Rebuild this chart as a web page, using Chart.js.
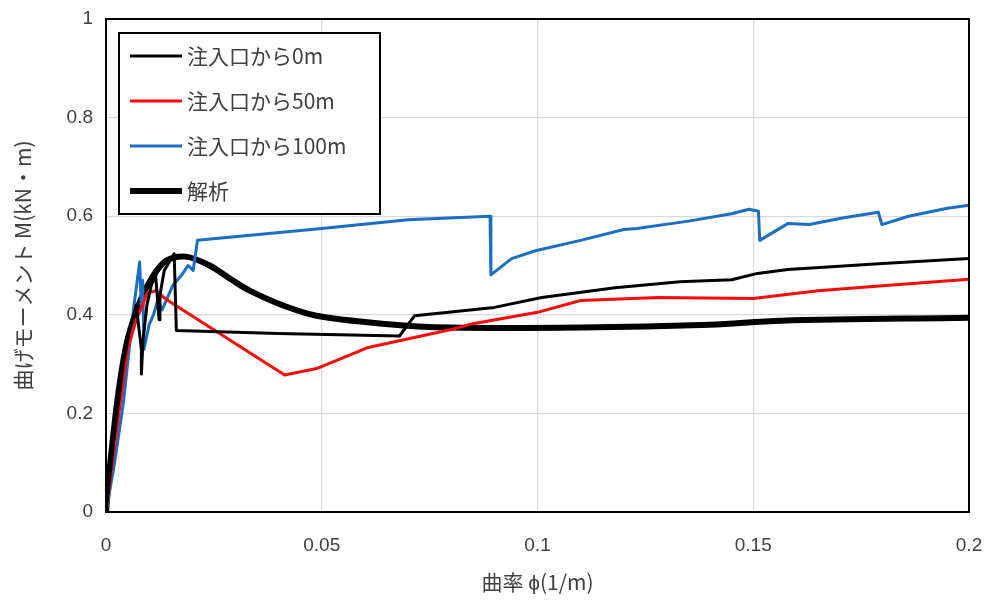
<!DOCTYPE html>
<html>
<head>
<meta charset="utf-8">
<script src="https://cdn.jsdelivr.net/npm/chart.js@4/dist/chart.umd.min.js"></script>
<style>
  html, body { margin: 0; padding: 0; background: #fff; }
  #wrap { width: 989px; height: 602px; position: relative; }
</style>
</head>
<body>
<div id="wrap"><canvas id="c" width="989" height="602"></canvas></div>
<script>
// ---- data (curvature phi [1/m], moment M [kN·m]) ----
const seriesNames = ['注入口から0m', '注入口から50m', '注入口から100m', '解析'];
const xTickLabels = ['0', '0.05', '0.1', '0.15', '0.2'];
const yTickLabels = ['0', '0.2', '0.4', '0.6', '0.8', '1'];

const phi0m = [0, 0.002, 0.004, 0.0055, 0.007, 0.0082, 0.0082, 0.0086, 0.0095, 0.0105, 0.0115, 0.0123, 0.0125, 0.0135, 0.0158, 0.0163, 0.04, 0.068, 0.0715, 0.09, 0.101, 0.118, 0.133, 0.145, 0.151, 0.158, 0.18, 0.2];
const m0m   = [0, 0.16, 0.30, 0.37, 0.42, 0.33, 0.28, 0.35, 0.42, 0.46, 0.48, 0.39, 0.44, 0.49, 0.524, 0.368, 0.362, 0.357, 0.398, 0.415, 0.435, 0.455, 0.467, 0.471, 0.484, 0.492, 0.504, 0.514];

const phi50m = [0, 0.003, 0.005, 0.007, 0.0085, 0.0095, 0.0115, 0.014, 0.0414, 0.0488, 0.0605, 0.08, 0.085, 0.1, 0.11, 0.128, 0.15, 0.165, 0.18, 0.2];
const m50m   = [0, 0.2, 0.33, 0.39, 0.42, 0.443, 0.449, 0.431, 0.278, 0.291, 0.333, 0.37, 0.382, 0.405, 0.429, 0.435, 0.433, 0.449, 0.459, 0.472];

const phi100m = [0, 0.002, 0.004, 0.005, 0.006, 0.0065, 0.0078, 0.0082, 0.0085, 0.0088, 0.01, 0.011, 0.012, 0.013, 0.0145, 0.0155, 0.0175, 0.019, 0.0202, 0.0212, 0.05, 0.07, 0.089, 0.0892, 0.094, 0.0995, 0.11, 0.12, 0.123, 0.135, 0.145, 0.149, 0.1512, 0.1515, 0.158, 0.163, 0.171, 0.179, 0.1798, 0.186, 0.195, 0.2];
const m100m   = [0, 0.1, 0.22, 0.3, 0.38, 0.42, 0.507, 0.41, 0.47, 0.33, 0.38, 0.40, 0.43, 0.41, 0.44, 0.46, 0.48, 0.50, 0.49, 0.551, 0.575, 0.593, 0.6, 0.481, 0.514, 0.53, 0.551, 0.573, 0.575, 0.59, 0.605, 0.614, 0.61, 0.551, 0.585, 0.583, 0.597, 0.608, 0.583, 0.600, 0.616, 0.622];

const phiCalc = [0, 0.001, 0.003, 0.005, 0.008, 0.011, 0.014, 0.0185, 0.024, 0.0293, 0.0333, 0.041, 0.0488, 0.064, 0.0798, 0.11, 0.14, 0.1565, 0.2];
const mCalc   = [0, 0.1, 0.25, 0.35, 0.43, 0.48, 0.51, 0.518, 0.5, 0.47, 0.449, 0.419, 0.398, 0.382, 0.374, 0.374, 0.38, 0.388, 0.394];

const seriesColors = ['#000000', '#ff0a0a', '#1a6fc4', '#000000'];
const seriesWidths = [3, 3, 3, 6];

function pts(xs, ys) { return xs.map((x, i) => ({ x: x, y: ys[i] })); }

const allX = [phi0m, phi50m, phi100m, phiCalc];
const allY = [m0m, m50m, m100m, mCalc];

const datasets = seriesNames.map((name, i) => ({
  label: name,
  data: pts(allX[i], allY[i]),
  borderColor: seriesColors[i],
  backgroundColor: seriesColors[i],
  borderWidth: seriesWidths[i],
  showLine: true,
  pointRadius: 0,
  tension: i === 3 ? 0.35 : 0,
  borderJoinStyle: 'round',
  borderCapStyle: 'round',
  order: i === 3 ? 4 : 1
}));

const FONT = "'Liberation Sans', 'Noto Sans CJK JP', sans-serif";
const CJK = "'Noto Sans CJK JP', 'Liberation Sans', sans-serif";

const boxPlugin = {
  id: 'boxPlugin',
  afterDatasetsDraw(chart) {
    const { ctx, chartArea: a } = chart;
    ctx.save();
    ctx.strokeStyle = '#000';
    ctx.lineWidth = 2;
    ctx.strokeRect(a.left, a.top, a.right - a.left, a.bottom - a.top);

    // legend box
    const lx = 119, ly = 33, lw = 261, lh = 181;
    ctx.fillStyle = '#fff';
    ctx.fillRect(lx, ly, lw, lh);
    ctx.lineWidth = 2;
    ctx.strokeRect(lx, ly, lw, lh);
    const rows = [56, 101, 146, 191];
    chart.data.datasets.forEach((ds, i) => {
      const y = rows[i];
      ctx.beginPath();
      ctx.strokeStyle = ds.borderColor;
      ctx.lineWidth = ds.borderWidth;
      ctx.lineCap = 'butt';
      ctx.moveTo(130, y);
      ctx.lineTo(182, y);
      ctx.stroke();
      ctx.fillStyle = '#404040';
      ctx.font = "21px " + CJK;
      ctx.textBaseline = 'middle';
      ctx.textAlign = 'left';
      ctx.fillText(ds.label, 187, y);
    });
    ctx.restore();
  }
};

new Chart(document.getElementById('c'), {
  type: 'scatter',
  data: { datasets: datasets },
  options: {
    responsive: false,
    animation: false,
    devicePixelRatio: 1,
    layout: { padding: { top: 19, right: 20, left: 0, bottom: 0 } },
    plugins: { legend: { display: false }, tooltip: { enabled: false } },
    scales: {
      x: {
        type: 'linear', min: 0, max: 0.2,
        afterFit(s) { s.height = 90; s.paddingLeft = 0; s.paddingRight = 0; },
        grid: { color: '#d9d9d9', lineWidth: 1.3, drawTicks: false },
        border: { display: false },
        ticks: {
          stepSize: 0.05, padding: 22, color: '#404040',
          font: { family: FONT, size: 19 },
          callback: (v, i) => xTickLabels[i]
        },
        title: {
          display: true, text: '曲率 ϕ(1/m)', color: '#404040',
          font: { family: CJK, size: 21 }, padding: { top: 0, bottom: 7 }
        }
      },
      y: {
        type: 'linear', min: 0, max: 1,
        afterFit(s) { s.width = 106; s.paddingTop = 0; s.paddingBottom = 0; },
        grid: { color: '#d9d9d9', lineWidth: 1.3, drawTicks: false },
        border: { display: false },
        ticks: {
          stepSize: 0.2, padding: 13, color: '#404040',
          font: { family: FONT, size: 19 },
          callback: (v, i) => yTickLabels[i]
        },
        title: {
          display: true, text: '曲げモーメント M(kN・m)', color: '#404040',
          font: { family: CJK, size: 21 }, padding: { top: 10, bottom: 0 }
        }
      }
    }
  },
  plugins: [boxPlugin]
});
</script>
</body>
</html>
